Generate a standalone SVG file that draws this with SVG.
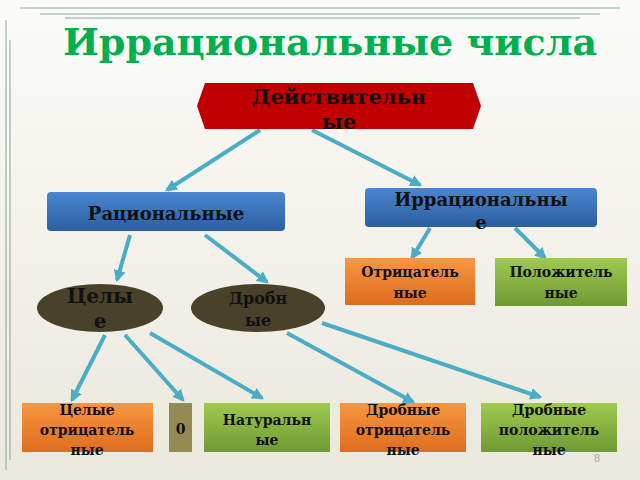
<svg xmlns="http://www.w3.org/2000/svg" width="640" height="480" viewBox="0 0 640 480">
<defs>
<linearGradient id="bg" x1="0" y1="0" x2="0" y2="1"><stop offset="0" stop-color="#fbfbf9"/><stop offset="1" stop-color="#ebe8dc"/></linearGradient>
<linearGradient id="blue" x1="0" y1="0" x2="0" y2="1"><stop offset="0" stop-color="#4a86d0"/><stop offset="1" stop-color="#2c5ea0"/></linearGradient>
<linearGradient id="orange" x1="0" y1="0" x2="0" y2="1"><stop offset="0" stop-color="#f8963f"/><stop offset="1" stop-color="#dd6d20"/></linearGradient>
<linearGradient id="green" x1="0" y1="0" x2="0" y2="1"><stop offset="0" stop-color="#9fca4e"/><stop offset="1" stop-color="#6f9a34"/></linearGradient>
<marker id="ah" viewBox="0 0 10 10" refX="8" refY="5" markerWidth="3" markerHeight="3" orient="auto"><path d="M0,0L10,5L0,10z" fill="#4bacc6"/></marker>
</defs>
<style>
.t{font-family:"DejaVu Serif","Liberation Serif",serif;font-weight:bold;fill:#111;text-anchor:middle}
.c{stroke:#4bacc6;stroke-width:4;fill:none;marker-end:url(#ah)}
</style>
<rect width="640" height="480" fill="url(#bg)"/>
<g fill="none" stroke="#8aa5a0" stroke-width="1">
<path d="M20,8H620M40,14H600M65,18H580"/>
<path d="M6,20V470M10,40V460"/>
</g>
<text x="330" y="55" class="t" style="font-size:38px;fill:#00b050">Иррациональные числа</text>
<g id="connectors">
<line class="c" x1="260" y1="130" x2="167" y2="190"/>
<line class="c" x1="312" y1="130" x2="420" y2="185"/>
<line class="c" x1="130" y1="235" x2="117" y2="280"/>
<line class="c" x1="205" y1="235" x2="267" y2="282"/>
<line class="c" x1="430" y1="228" x2="412" y2="258"/>
<line class="c" x1="515" y1="228" x2="545" y2="258"/>
<line class="c" x1="105" y1="335" x2="72" y2="400"/>
<line class="c" x1="125" y1="335" x2="183" y2="400"/>
<line class="c" x1="150" y1="333" x2="262" y2="398"/>
<line class="c" x1="287" y1="333" x2="413" y2="402"/>
<line class="c" x1="322" y1="323" x2="540" y2="397"/>
</g>
<g id="real"><polygon points="197,106 205,83 473,83 481,106 473,129 205,129" fill="#c00000"/>
<text class="t" x="339" y="104" font-size="21">Действительн</text><text class="t" x="339" y="129" font-size="21">ые</text></g>
<g id="rational"><rect x="47" y="192" width="238" height="39" rx="4" fill="url(#blue)"/><text class="t" x="166" y="220" font-size="18">Рациональные</text></g>
<g id="irrational"><rect x="365" y="188" width="232" height="39" rx="4" fill="url(#blue)"/><text class="t" x="481" y="206" font-size="18">Иррациональны</text><text class="t" x="481" y="229" font-size="18">е</text></g>
<g id="neg"><rect x="345" y="258" width="130" height="47" fill="url(#orange)"/><text class="t" x="410" y="277" font-size="14">Отрицатель</text><text class="t" x="410" y="298" font-size="14">ные</text></g>
<g id="pos"><rect x="495" y="258" width="132" height="48" fill="url(#green)"/><text class="t" x="561" y="277" font-size="14">Положитель</text><text class="t" x="561" y="298" font-size="14">ные</text></g>
<g id="whole"><ellipse cx="100" cy="308" rx="63" ry="24" fill="#4a412a"/><text class="t" x="100" y="303" font-size="20">Целы</text><text class="t" x="100" y="328" font-size="20">е</text></g>
<g id="frac"><ellipse cx="258" cy="308" rx="67" ry="24" fill="#4a412a"/><text class="t" x="258" y="304" font-size="16">Дробн</text><text class="t" x="258" y="326" font-size="16">ые</text></g>
<g id="wneg"><rect x="22" y="403" width="131" height="49" fill="url(#orange)"/><text class="t" x="87" y="415" font-size="14">Целые</text><text class="t" x="87" y="435" font-size="14">отрицатель</text><text class="t" x="87" y="455" font-size="14">ные</text></g>
<g id="zero"><rect x="169" y="403" width="23" height="49" fill="#948a54"/><text class="t" x="180.5" y="434" font-size="14">0</text></g>
<g id="nat"><rect x="204" y="403" width="126" height="49" fill="url(#green)"/><text class="t" x="267" y="425" font-size="14">Натуральн</text><text class="t" x="267" y="445" font-size="14">ые</text></g>
<g id="fneg"><rect x="340" y="403" width="126" height="49" fill="url(#orange)"/><text class="t" x="403" y="415" font-size="14">Дробные</text><text class="t" x="403" y="435" font-size="14">отрицатель</text><text class="t" x="403" y="455" font-size="14">ные</text></g>
<g id="fpos"><rect x="481" y="403" width="136" height="49" fill="url(#green)"/><text class="t" x="549" y="415" font-size="14">Дробные</text><text class="t" x="549" y="435" font-size="14">положитель</text><text class="t" x="549" y="455" font-size="14">ные</text></g>
<text x="597" y="462" font-family="Liberation Sans,sans-serif" font-size="11" fill="#aaa" text-anchor="middle">8</text>
</svg>
